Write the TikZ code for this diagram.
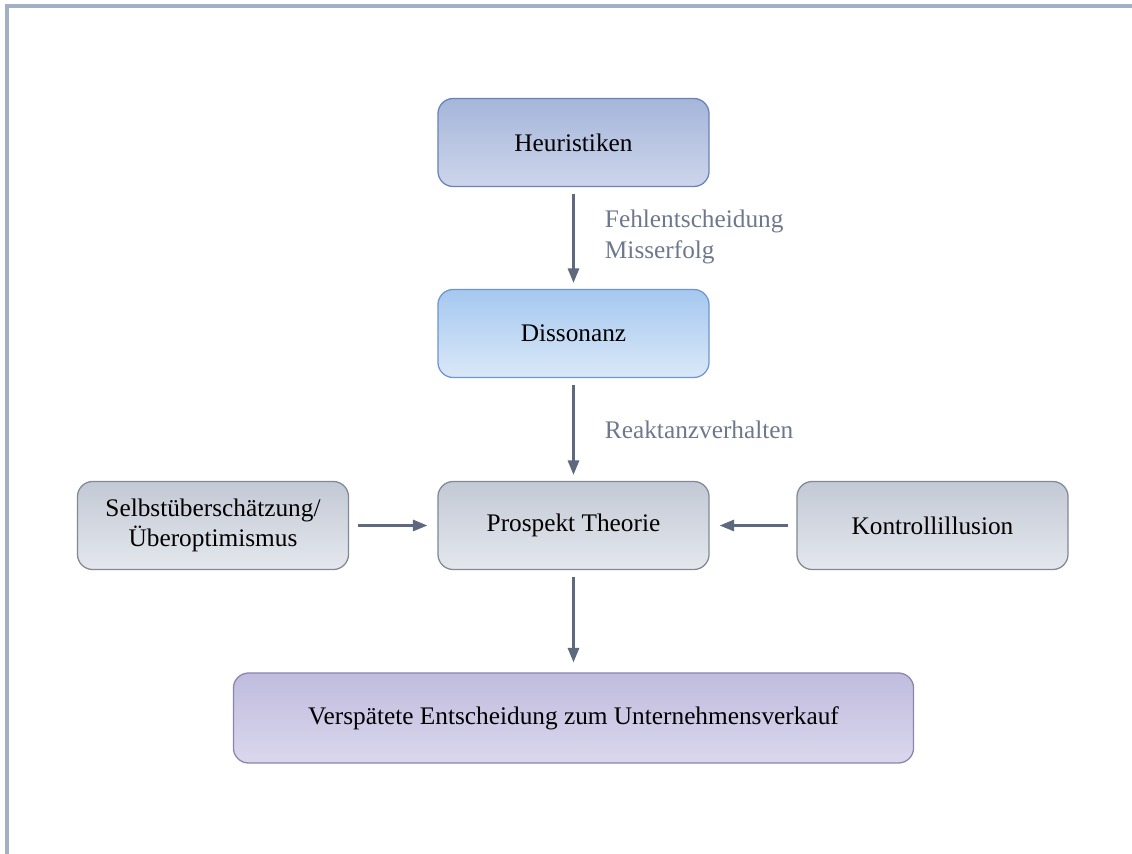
\documentclass[tikz,border=0pt]{standalone}
\usepackage{fontspec}
\setmainfont{Liberation Serif}
\usetikzlibrary{arrows.meta}
\definecolor{framecol}{RGB}{165,175,195}
\definecolor{arrowcol}{RGB}{95,105,125}
\definecolor{labelcol}{RGB}{110,120,140}
\begin{document}
\begin{tikzpicture}[x=0.025cm, y=-0.025cm,
        box/.style={rounded corners=0.38cm, minimum width=6.775cm, minimum height=2.2cm,
            align=center, font=\fontsize{18}{21}\selectfont, line width=0.9pt},
        bluebox/.style={box, draw={rgb,255:red,105;green,130;blue,185},
            top color={rgb,255:red,165;green,182;blue,218}, bottom color={rgb,255:red,205;green,213;blue,235}},
        skybox/.style={box, draw={rgb,255:red,110;green,150;blue,210},
            top color={rgb,255:red,165;green,200;blue,240}, bottom color={rgb,255:red,218;green,232;blue,247}},
        graybox/.style={box, draw={rgb,255:red,130;green,136;blue,148},
            top color={rgb,255:red,195;green,201;blue,213}, bottom color={rgb,255:red,228;green,231;blue,237}},
        lilabox/.style={box, draw={rgb,255:red,140;green,132;blue,175},
            top color={rgb,255:red,192;green,188;blue,222}, bottom color={rgb,255:red,218;green,215;blue,237}},
        flow/.style={draw=arrowcol, line width=1.6pt, -{Triangle[length=0.36cm, width=0.28cm]}},
        note/.style={text=labelcol, font=\fontsize{18}{21.5}\selectfont, align=left, anchor=west}]
    \useasboundingbox (0,0) rectangle (1132,854);
    % Rahmen
    \draw[framecol, line width=2.2pt] (7,854) -- (7,6) -- (1132,6);
    % Kaesten
    \node[bluebox] (heur) at (573.5,142.5) {Heuristiken};
    \node[skybox] (diss) at (573.5,333.5) {Dissonanz};
    \node[graybox] (prosp) at (573.5,525.5) {Prospekt Theorie};
    \node[graybox] (selbst) at (213,525.5) {Selbstüberschätzung/\\Überoptimismus};
    \node[graybox] (kontr) at (932.5,525.5) {Kontrollillusion};
    \node[lilabox, minimum width=17cm, minimum height=2.25cm] (verk) at (573.5,718) {Verspätete Entscheidung zum Unternehmensverkauf};
    % Pfeile
    \draw[flow] ([yshift=-0.18cm]heur.south) -- ([yshift=0.15cm]diss.north);
    \draw[flow] ([yshift=-0.18cm]diss.south) -- ([yshift=0.15cm]prosp.north);
    \draw[flow] ([yshift=-0.18cm]prosp.south) -- ([yshift=0.25cm]verk.north);
    \draw[flow] ([xshift=0.22cm]selbst.east) -- ([xshift=-0.25cm]prosp.west);
    \draw[flow] ([xshift=-0.22cm]kontr.west) -- ([xshift=0.25cm]prosp.east);
    % Beschriftungen
    \node[note] (fehl) at (600,237) {Fehlentscheidung\\Misserfolg};
    \node[note] (reakt) at (600,430) {Reaktanzverhalten};
\end{tikzpicture}
\end{document}
